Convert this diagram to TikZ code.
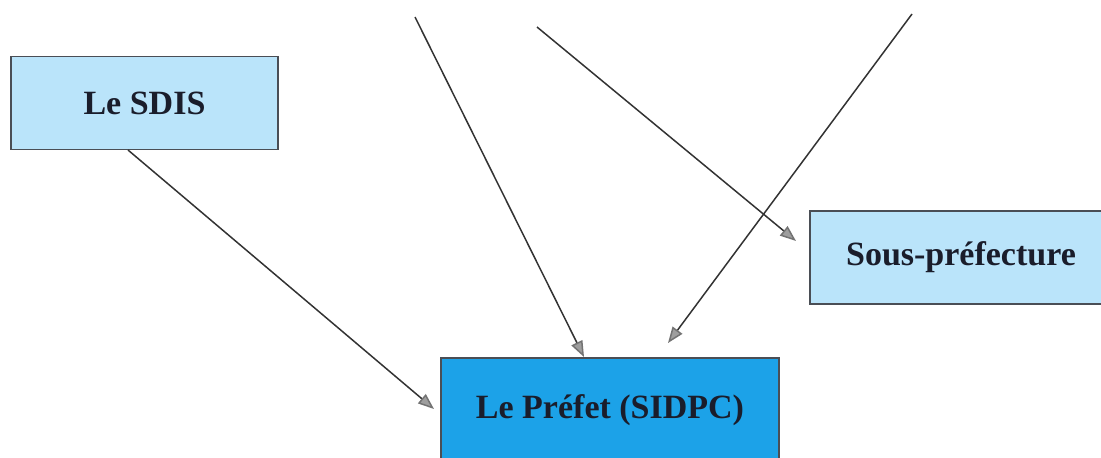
\documentclass[tikz,border=0pt]{standalone}
\usepackage{fontspec}
\setmainfont{Liberation Serif}
\usetikzlibrary{arrows.meta}
\definecolor{lightbox}{HTML}{BAE4FA}
\definecolor{darkbox}{HTML}{1CA2E8}
\definecolor{boxline}{HTML}{4A4E55}
\definecolor{txt}{HTML}{1A1D2B}
\definecolor{conn}{HTML}{333333}
\begin{document}
\begin{tikzpicture}[x=1pt,y=-1pt,
  box/.style={draw=boxline, line width=1.5pt, inner sep=0pt, anchor=center,
    font=\fontsize{34}{40}\selectfont\bfseries, text=txt},
  conn/.style={draw=conn, line width=1.5pt,
    -{Triangle[length=16pt,width=12pt,color=black!55,fill=black!38]}}]
\useasboundingbox (0,0) rectangle (1101,458);
\begin{scope}
\clip (0,0) rectangle (1101,458);
\node[box, fill=lightbox, minimum width=267pt, minimum height=93pt] (sdis) at (144.5,103) {Le SDIS};
\node[box, fill=darkbox, minimum width=338pt, minimum height=104pt] (prefet) at (610,410) {Le Préfet (SIDPC)};
\node[box, fill=lightbox, minimum width=302pt, minimum height=93pt] (souspref) at (961,257.5) {Sous-préfecture};
\end{scope}
\coordinate (s1) at (128,150);
\coordinate (t1) at (434,409);
\coordinate (c1) at (415,17);
\coordinate (t2) at (584,357);
\coordinate (c2) at (537,27);
\coordinate (t3) at (796,241);
\coordinate (c3) at (912,14);
\coordinate (t4) at (668,343);
\draw[conn] (s1) -- (t1);
\draw[conn] (c1) -- (t2);
\draw[conn] (c2) -- (t3);
\draw[conn] (c3) -- (t4);
\end{tikzpicture}
\end{document}
